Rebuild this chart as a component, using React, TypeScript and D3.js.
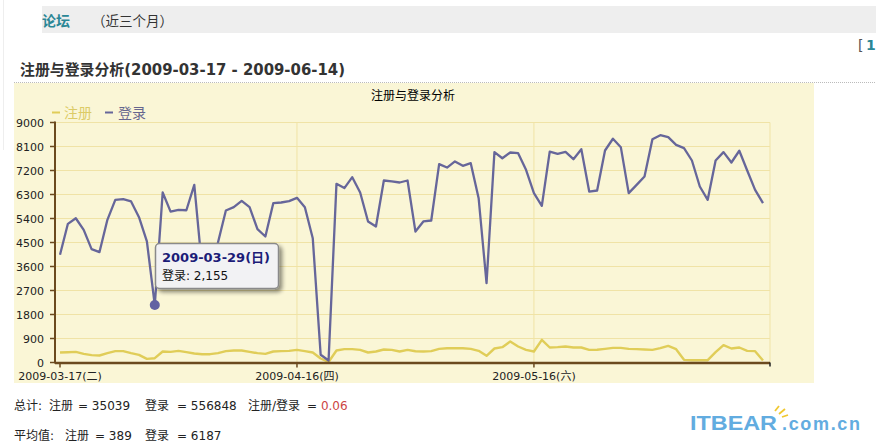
import React from 'react';
import * as d3 from 'd3';

const START_DATE = '2009-03-17';
const END_DATE = '2009-06-14';

// 登录 (logins) per day
const loginValues = [
  4040, 5200, 5410, 4975, 4250, 4140, 5350, 6100, 6125, 6040, 5450, 4540,
  2155, 6375, 5660, 5725, 5710, 6660, 3500, 3200, 4500, 5700, 5825, 6060,
  5825, 5000, 4725, 5975, 6000, 6050, 6175, 5825, 4660, 290, 75, 6700,
  6540, 6950, 6375, 5290, 5100, 6825, 6790, 6750, 6825, 4910, 5290, 5325,
  7440, 7310, 7540, 7375, 7475, 6160, 2975, 7890, 7660, 7875, 7850, 7225,
  6350, 5875, 7910, 7825, 7900, 7625, 8000, 6410, 6450, 7950, 8390, 8075,
  6350, 6660, 6975, 8375, 8525, 8450, 8160, 8040, 7575, 6600, 6100, 7575,
  7890, 7500, 7940, 7200, 6475, 5975,
];

// 注册 (registrations) per day
const registerValues = [
  375, 387, 400, 325, 275, 262, 350, 425, 425, 350, 287, 137,
  162, 412, 400, 437, 387, 337, 312, 312, 350, 425, 450, 450,
  400, 350, 325, 412, 425, 437, 475, 425, 375, 150, 20, 450,
  500, 500, 475, 375, 412, 487, 475, 412, 475, 420, 412, 425,
  512, 537, 537, 537, 512, 437, 250, 525, 575, 787, 600, 475,
  412, 850, 562, 575, 600, 562, 562, 475, 480, 512, 550, 550,
  512, 500, 487, 475, 537, 625, 500, 100, 87, 87, 87, 387,
  650, 525, 562, 437, 425, 75,
];

const yTicks = [0, 900, 1800, 2700, 3600, 4500, 5400, 6300, 7200, 8100, 9000];
const xTickDates = ['2009-03-17', '2009-04-16', '2009-05-16'];
const weekdays = ['日', '一', '二', '三', '四', '五', '六'];

const highlightIndex = 12;

const totals = { register: 35039, login: 556848, ratio: '0.06' };
const averages = { register: 389, login: 6187 };

const CJK = '"Noto Sans CJK SC", "Noto Sans", sans-serif';
const SANS = '"DejaVu Sans", "Noto Sans CJK SC", sans-serif';

const parse = d3.utcParse('%Y-%m-%d');
const fmt = d3.utcFormat('%Y-%m-%d');
const label = (d: Date) => `${fmt(d)}(${weekdays[d.getUTCDay()]})`;

export default function App() {
  const start = parse(START_DATE)!;
  const end = parse(END_DATE)!;
  const dates = d3.utcDay.range(start, d3.utcDay.offset(end, 1));

  const x = d3.scaleUtc().domain([start, end]).range([60, 763]);
  const y = d3.scaleLinear().domain([0, 9000]).range([362.5, 122.5]);

  const plotLeft = 55;
  const plotRight = 770;

  const line = d3.line<number>()
    .x((_, i) => x(dates[i]))
    .y(d => y(d));

  const colorLogin = '#66669a';
  const colorReg = '#e0cd58';
  const gridColor = '#f0e3a6';
  const axisColor = '#6b4a1e';

  const hi = dates[highlightIndex];
  const hx = x(hi);
  const hy = y(loginValues[highlightIndex]);

  const sumStyle = { fontFamily: SANS, fontSize: 12, fill: '#222' };

  return (
    <svg width={876} height={442} style={{ position: 'absolute', left: 0, top: 0, background: '#fff' }}>
      <defs>
        <filter id="shadow" x="-20%" y="-20%" width="150%" height="160%">
          <feGaussianBlur in="SourceAlpha" stdDeviation="2" />
          <feOffset dx="3" dy="3" result="o" />
          <feComponentTransfer><feFuncA type="linear" slope="0.45" /></feComponentTransfer>
          <feMerge><feMergeNode /><feMergeNode in="SourceGraphic" /></feMerge>
        </filter>
      </defs>

      {/* header bar */}
      <line x1={3.5} x2={3.5} y1={0} y2={150} stroke="#eeeeee" />
      <rect x={42} y={6} width={834} height={27} fill="#eeeeee" />
      <text x={42} y={26} fontFamily={CJK} fontSize={14} fontWeight="bold" fill="#2b8796">论坛</text>
      <text x={92} y={26} fontFamily={CJK} fontSize={14} fill="#333"
        textLength={81} lengthAdjust="spacingAndGlyphs">（近三个月）</text>
      <text x={858} y={50} fontFamily={SANS} fontSize={14} fill="#555">[</text>
      <text x={866} y={50} fontFamily={SANS} fontSize={14} fontWeight="bold" fill="#2b8796">1</text>

      <text x={20} y={75} fontFamily={SANS} fontSize={15} fontWeight="bold" fill="#333"
        textLength={325} lengthAdjust="spacingAndGlyphs">
        注册与登录分析(2009-03-17 - 2009-06-14)
      </text>
      <line x1={14} x2={876} y1={82.5} y2={82.5} stroke="#bbb" strokeDasharray="1,1" />

      {/* chart box */}
      <rect x={14} y={83} width={800} height={300} fill="#faf6d6" />
      <text x={413} y={100} textAnchor="middle" fontFamily={CJK} fontSize={12} fill="#000">注册与登录分析</text>

      {/* legend */}
      <line x1={52} x2={60} y1={112.5} y2={112.5} stroke={colorReg} strokeWidth={2} />
      <text x={64} y={118} fontFamily={CJK} fontSize={14} fill="#dccb66">注册</text>
      <line x1={105} x2={113} y1={112.5} y2={112.5} stroke={colorLogin} strokeWidth={2} />
      <text x={118} y={118} fontFamily={CJK} fontSize={14} fill="#66668e">登录</text>

      {/* grid */}
      {yTicks.filter(t => t > 0).map(t => (
        <line key={t} x1={plotLeft} x2={plotRight} y1={y(t)} y2={y(t)} stroke={gridColor} strokeWidth={1} />
      ))}
      {xTickDates.slice(1).map(s => (
        <line key={s} x1={x(parse(s)!)} x2={x(parse(s)!)} y1={y(9000)} y2={y(0)} stroke={gridColor} />
      ))}
      <line x1={plotRight} x2={plotRight} y1={y(9000)} y2={y(0)} stroke={gridColor} />

      {/* y axis */}
      <line x1={plotLeft} x2={plotLeft} y1={y(9000) - 1} y2={y(0) + 1} stroke={axisColor} strokeWidth={2} />
      {yTicks.map(t => (
        <g key={t}>
          <line x1={plotLeft - 5} x2={plotLeft} y1={y(t)} y2={y(t)} stroke={axisColor} strokeWidth={1.5} />
          <text x={44} y={y(t) + 4} textAnchor="end" fontFamily={SANS} fontSize={11} fill="#222">{t}</text>
        </g>
      ))}

      {/* lines */}
      <path d={line(registerValues) || ''} fill="none" stroke={colorReg} strokeWidth={2.4} strokeLinejoin="round" />
      <path d={line(loginValues) || ''} fill="none" stroke={colorLogin} strokeWidth={2.3} strokeLinejoin="round" />

      {/* x axis */}
      <line x1={plotLeft} x2={plotRight} y1={y(0) + 0.5} y2={y(0) + 0.5} stroke={axisColor} strokeWidth={2.5} />
      {xTickDates.map(s => {
        const d = parse(s)!;
        return (
          <g key={s}>
            <line x1={x(d)} x2={x(d)} y1={y(0)} y2={y(0) + 5} stroke={axisColor} strokeWidth={1.5} />
            <text x={x(d)} y={380} textAnchor="middle" fontFamily={SANS} fontSize={11} fill="#222">{label(d)}</text>
          </g>
        );
      })}
      <line x1={plotRight} x2={plotRight} y1={y(0)} y2={y(0) + 4} stroke="#222" strokeWidth={1.5} />

      {/* highlight */}
      <circle cx={hx} cy={hy} r={5} fill="#6262a2" />
      <g filter="url(#shadow)">
        <rect x={155.5} y={243.5} width={123} height={45} rx={4} fill="#f2f2f4" stroke="#8a8a8a" strokeWidth={1.5} />
      </g>
      <text x={162} y={262} fontFamily={SANS} fontSize={13} fontWeight="bold" fill="#1c1c78">{label(hi)}</text>
      <text x={162} y={280} fontFamily={SANS} fontSize={12} fill="#111">
        登录: {d3.format(',')(loginValues[highlightIndex])}
      </text>

      {/* summary */}
      <text y={410} {...sumStyle}>
        <tspan x={14}>总计:</tspan>
        <tspan x={49}>注册</tspan>
        <tspan x={78}>{`= ${totals.register}`}</tspan>
        <tspan x={145}>登录</tspan>
        <tspan x={177}>{`= ${totals.login}`}</tspan>
        <tspan x={248}>注册/登录</tspan>
        <tspan x={307}>= </tspan>
        <tspan fill="#cc4444">{totals.ratio}</tspan>
      </text>
      <text y={440} {...sumStyle}>
        <tspan x={14}>平均值:</tspan>
        <tspan x={65}>注册</tspan>
        <tspan x={95}>{`= ${averages.register}`}</tspan>
        <tspan x={145}>登录</tspan>
        <tspan x={177}>{`= ${averages.login}`}</tspan>
      </text>

      {/* watermark */}
      <text x={690} y={430} fontFamily="'Liberation Sans', Arial, sans-serif" fontSize={21} fontWeight="bold" fill="#62ace0"
        textLength={87} lengthAdjust="spacingAndGlyphs">ITBEAR</text>
      <text x={782} y={430} fontFamily="'Liberation Sans', Arial, sans-serif" fontSize={18} fontWeight="bold" fill="#62ace0"
        textLength={78} lengthAdjust="spacing">.com.cn</text>
      <line x1={775} x2={779} y1={411} y2={406} stroke="#f0c830" strokeWidth={1.8} />
      <line x1={779} x2={785} y1={414} y2={409} stroke="#f0c830" strokeWidth={1.8} />
      <line x1={782} x2={788} y1={417} y2={415} stroke="#f0c830" strokeWidth={1.8} />
    </svg>
  );
}
